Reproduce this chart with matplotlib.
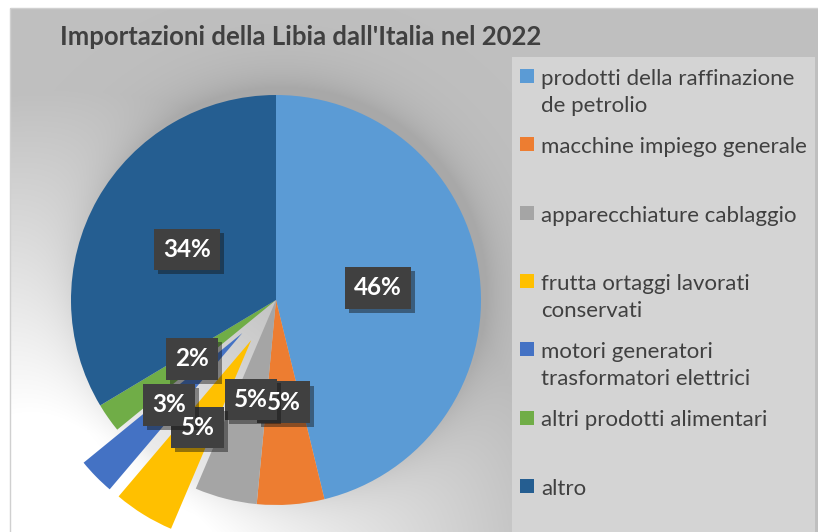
import numpy as np
import matplotlib
matplotlib.use("Agg")
import matplotlib.pyplot as plt
from matplotlib.patches import Rectangle
import matplotlib.patheffects as pe

# data
categorie = [
    "prodotti della raffinazione\nde petrolio",
    "macchine impiego generale",
    "apparecchiature cablaggio",
    "frutta ortaggi lavorati\nconservati",
    "motori generatori\ntrasformatori elettrici",
    "altri prodotti alimentari",
    "altro",
]
quote = [46.2, 5.3, 4.9, 4.8, 2.9, 2.3, 33.6]
colori = ["#5B9BD5", "#ED7D31", "#A5A5A5", "#FFC000", "#4472C4", "#70AD47", "#255E91"]
esplodi = [0, 0, 0, 0.23, 0.23, 0, 0]
titolo = "Importazioni della Libia dall'Italia nel 2022"

W, H = 818, 532
fig = plt.figure(figsize=(W / 100, H / 100), dpi=100)
fig.patch.set_facecolor("white")

# background: gray with a soft light zone bottom-left and a shadow round the pie
cx, cy, R = 276, 300, 205
yy, xx = np.mgrid[0:H, 0:W].astype(float)
d_glow = np.hypot(xx - 60, yy - 580)
glow = 0.27 * np.clip(1 - (d_glow - 150) / 340, 0, 1)
d_sh = np.hypot(xx - cx - 5, yy - cy + 8)
shadow = 0.09 * np.exp(-np.clip(d_sh - R, 0, None) / 22)
val = np.clip(0.75 + glow - shadow, 0, 1)
img = np.dstack([val, val, val])
img[:8, :, :] = 1.0
img[:, :10, :] = 1.0

bg = fig.add_axes([0, 0, 1, 1], zorder=0)
bg.imshow(img, extent=(0, W, H, 0), aspect="auto", interpolation="bilinear")
bg.set_xlim(0, W)
bg.set_ylim(H, 0)
bg.axis("off")
bg.add_patch(Rectangle((10, 8), W, H, fill=False, edgecolor="#d0d0d0", lw=1))
# legend panel
bg.add_patch(Rectangle((512, 57), 303, H, facecolor="#d4d4d4", edgecolor="none"))

# pie axes: 1 unit = R pixels, centre at (cx, cy)
ax = fig.add_axes([0, 0, 1, 1], zorder=1)
ax.patch.set_alpha(0)
wedges, testi, autotesti = ax.pie(
    quote, colors=colori, explode=esplodi, startangle=90, counterclock=False,
    radius=1, center=(0, 0), autopct="%.0f%%", pctdistance=0.5,
    wedgeprops=dict(linewidth=0), frame=True,
)
ax.set_xlim(-cx / R, (W - cx) / R)
ax.set_ylim(-(H - cy) / R, cy / R)
ax.axis("off")

# boxes first, then all the label texts on top (as Excel does)
for t in autotesti:
    t.set_color("none")
    t.set_fontsize(17.5)
    t.set_fontweight("bold")
    t.set_family("Lato")
    t.set_bbox(dict(boxstyle="square,pad=0.38", facecolor="#404040", edgecolor="none"))
    t.get_bbox_patch().set_path_effects(
        [pe.SimplePatchShadow(offset=(3, -3), alpha=0.45), pe.Normal()])
    ax.text(*t.get_position(), t.get_text(), color="white", fontsize=17.5,
            fontweight="bold", family="Lato", ha="center", va="center", zorder=10)

bg.text(60, 45, titolo, fontsize=18.5, fontweight="bold", color="#404040",
        family="Lato", ha="left", va="baseline")

# legend entries, evenly spaced like the original
for i, (nome, col) in enumerate(zip(categorie, colori)):
    y = 76 + i * 68.3
    bg.add_patch(Rectangle((520, y - 7), 14, 14, facecolor=col, edgecolor="none"))
    for k, riga in enumerate(nome.split("\n")):
        bg.text(541, y + 9 + k * 27, riga, fontsize=16, color="#404040",
                family="Lato", ha="left", va="baseline")

fig.savefig("out.png", dpi=100)
